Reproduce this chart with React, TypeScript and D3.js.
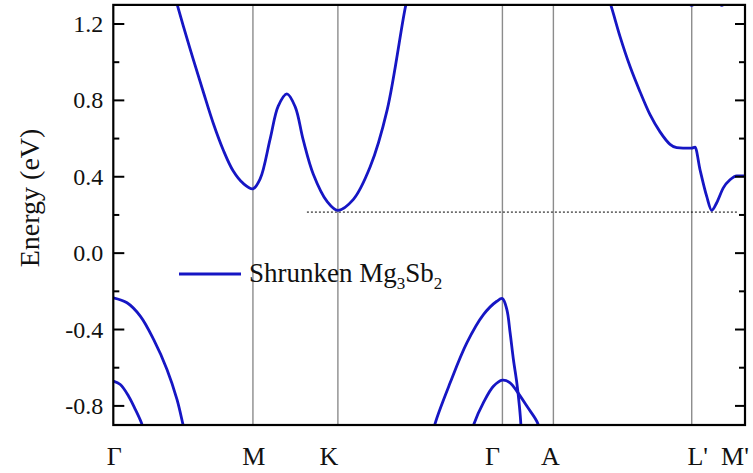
import { useEffect, useRef } from 'react'
import * as d3 from 'd3'

// high-symmetry points along the k-path (path distance, arbitrary units)
const kPoints = [0, 1.397, 2.247, 3.893, 4.403, 5.787, 6.32]
const kLabels = ['Γ', 'M', 'K', 'Γ', 'A', "L'", "M'"]
const kLabelShift = [1, 1, -9, -10, -3, 6, -10]

const yTicksMajor = [-0.8, -0.4, 0.0, 0.4, 0.8, 1.2]
const yTicksMinor = [-0.6, -0.2, 0.2, 0.6, 1.0]

// bands as [k, energy (eV)]
const cbLow: [number, number][] = [
  [0.6, 1.37], [0.64, 1.3], [0.7, 1.19], [0.8, 1.015], [0.9, 0.845], [1.0, 0.68],
  [1.1, 0.54], [1.2, 0.43], [1.3, 0.365], [1.397, 0.337], [1.47, 0.39], [1.57, 0.6],
  [1.65, 0.77], [1.737, 0.834], [1.82, 0.766], [1.9, 0.593], [2.0, 0.415],
  [2.14, 0.27], [2.247, 0.224], [2.4, 0.28], [2.57, 0.452], [2.74, 0.75],
  [2.927, 1.3], [2.96, 1.36],
]

const cbRight: [number, number][] = [
  [4.94, 1.36], [4.977, 1.3], [5.07, 1.134], [5.17, 0.977], [5.27, 0.845], [5.37, 0.725],
  [5.47, 0.635], [5.57, 0.57], [5.637, 0.552], [5.7, 0.55], [5.787, 0.55], [5.82, 0.555],
  [5.87, 0.437], [5.937, 0.297], [5.987, 0.224], [6.037, 0.264], [6.103, 0.342],
  [6.17, 0.384], [6.237, 0.405], [6.32, 0.405],
]

const cbUpper: [number, number][] = [
  [5.72, 1.34], [5.787, 1.297], [5.86, 1.34], [6.03, 1.34], [6.087, 1.297], [6.15, 1.34],
]

const vbLeft1: [number, number][] = [
  [0, -0.234], [0.137, -0.26], [0.27, -0.33], [0.403, -0.452], [0.537, -0.609],
  [0.637, -0.766], [0.697, -0.897], [0.72, -0.95],
]

const vbLeft2: [number, number][] = [
  [0, -0.67], [0.07, -0.688], [0.153, -0.749], [0.22, -0.818], [0.287, -0.897], [0.31, -0.95],
]

const vbGamma1: [number, number][] = [
  [3.2, -0.95], [3.22, -0.892], [3.37, -0.679], [3.537, -0.47], [3.703, -0.322],
  [3.837, -0.252], [3.893, -0.238], [3.937, -0.295], [3.97, -0.417], [4.003, -0.557],
  [4.037, -0.679], [4.063, -0.801], [4.077, -0.892], [4.08, -0.95],
]

const vbGamma2: [number, number][] = [
  [3.58, -0.95], [3.61, -0.892], [3.703, -0.783], [3.803, -0.697], [3.893, -0.665],
  [3.97, -0.679], [4.037, -0.723], [4.137, -0.801], [4.247, -0.892], [4.26, -0.95],
]

const smoothBands = [cbLow, cbUpper, vbLeft1, vbLeft2, vbGamma1, vbGamma2]
const kinkedBands = [cbRight]

// CBM reference level
const cbmLine: [number, number][] = [[1.937, 0.215], [6.25, 0.215]]

export default function App() {
  const svgRef = useRef<SVGSVGElement>(null)

  useEffect(() => {
    if (!svgRef.current) return
    document.body.style.margin = '0'

    const svg = d3.select(svgRef.current)
    svg.selectAll('*').remove()

    const left = 113.3, right = 745, top = 4.9, bottom = 425
    const blue = '#1616c4'
    const font = '"Liberation Serif", "Times New Roman", serif'

    const x = d3.scaleLinear().domain([0, 6.32]).range([left, right])
    const y = d3.scaleLinear().domain([-0.9, 1.3]).range([bottom, top])

    svg.append('defs').append('clipPath').attr('id', 'plot-clip')
      .append('rect')
      .attr('x', left).attr('y', top)
      .attr('width', right - left).attr('height', bottom - top)

    // vertical lines at high-symmetry points
    svg.append('g').selectAll('line')
      .data(kPoints.slice(1, -1))
      .join('line')
      .attr('x1', d => x(d)).attr('x2', d => x(d))
      .attr('y1', top).attr('y2', bottom)
      .attr('stroke', '#8c8c8c')
      .attr('stroke-width', 1.4)

    // dotted CBM level
    svg.append('line')
      .attr('x1', x(cbmLine[0][0])).attr('x2', x(cbmLine[1][0]))
      .attr('y1', y(cbmLine[0][1])).attr('y2', y(cbmLine[1][1]))
      .attr('stroke', '#000')
      .attr('stroke-width', 1)
      .attr('stroke-dasharray', '2,2')

    // bands
    const smooth = d3.line<[number, number]>()
      .x(d => x(d[0]))
      .y(d => y(d[1]))
      .curve(d3.curveCatmullRom.alpha(0.5))
    const mono = d3.line<[number, number]>()
      .x(d => x(d[0]))
      .y(d => y(d[1]))
      .curve(d3.curveMonotoneX)

    const bandG = svg.append('g').attr('clip-path', 'url(#plot-clip)')
      .attr('fill', 'none')
      .attr('stroke', blue)
      .attr('stroke-width', 2.8)
      .attr('stroke-linejoin', 'round')
    bandG.selectAll('path.s')
      .data(smoothBands)
      .join('path')
      .attr('class', 's')
      .attr('d', d => smooth(d))
    bandG.selectAll('path.m')
      .data(kinkedBands)
      .join('path')
      .attr('class', 'm')
      .attr('d', d => mono(d))

    // frame
    svg.append('rect')
      .attr('x', left).attr('y', top)
      .attr('width', right - left).attr('height', bottom - top)
      .attr('fill', 'none')
      .attr('stroke', '#000')
      .attr('stroke-width', 2.2)

    // y ticks (inward, both sides)
    const ticks = svg.append('g').attr('stroke', '#000').attr('stroke-width', 2)
    yTicksMajor.forEach(v => {
      ticks.append('line').attr('x1', left).attr('x2', left + 11).attr('y1', y(v)).attr('y2', y(v))
      ticks.append('line').attr('x1', right).attr('x2', right - 10).attr('y1', y(v)).attr('y2', y(v))
    })
    yTicksMinor.forEach(v => {
      ticks.append('line').attr('x1', left).attr('x2', left + 6).attr('y1', y(v)).attr('y2', y(v))
      ticks.append('line').attr('x1', right).attr('x2', right - 6).attr('y1', y(v)).attr('y2', y(v))
    })

    svg.append('g').selectAll('text')
      .data(yTicksMajor)
      .join('text')
      .attr('x', left - 10)
      .attr('y', d => y(d) + 8)
      .attr('text-anchor', 'end')
      .attr('font-family', font)
      .attr('font-size', 24)
      .attr('fill', '#111')
      .text(d => d.toFixed(1))

    // k labels
    svg.append('g').selectAll('text')
      .data(kPoints)
      .join('text')
      .attr('x', (d, i) => x(d) + kLabelShift[i])
      .attr('y', 465)
      .attr('text-anchor', 'middle')
      .attr('font-family', font)
      .attr('font-size', 26)
      .attr('fill', '#111')
      .text((d, i) => kLabels[i])

    // y axis title
    svg.append('text')
      .attr('transform', `translate(39, ${(top + bottom) / 2 - 17}) rotate(-90)`)
      .attr('text-anchor', 'middle')
      .attr('font-family', font)
      .attr('font-size', 28)
      .attr('fill', '#111')
      .text('Energy (eV)')

    // legend
    const legend = svg.append('g')
    legend.append('line')
      .attr('x1', 179).attr('x2', 241)
      .attr('y1', 274).attr('y2', 274)
      .attr('stroke', blue)
      .attr('stroke-width', 2.8)
    const lt = legend.append('text')
      .attr('x', 249).attr('y', 282)
      .attr('font-family', font)
      .attr('font-size', 27)
      .attr('fill', '#111')
    lt.append('tspan').text('Shrunken Mg')
    lt.append('tspan').attr('font-size', 17).attr('dy', 7).text('3')
    lt.append('tspan').attr('dy', -7).text('Sb')
    lt.append('tspan').attr('font-size', 17).attr('dy', 7).text('2')
  }, [])

  return (
    <svg ref={svgRef} width={753} height={473} style={{ display: 'block', background: '#fff' }} />
  )
}
